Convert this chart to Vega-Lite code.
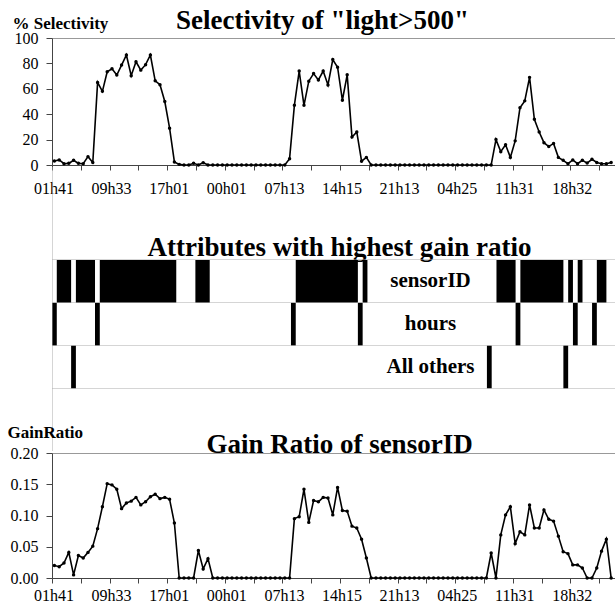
{
  "$schema": "https://vega.github.io/schema/vega-lite/v6.json",
  "autosize": {"type": "pad"},
  "padding": {"left": 7, "top": 7, "right": 0, "bottom": 0},
  "background": "white",
  "bounds": "flush",
  "spacing": 2,
  "config": {
    "font": "Liberation Serif",
    "view": {"stroke": null},
    "axis": {"labelFont": "Liberation Serif", "labelFontSize": 16, "labelColor": "black", "domainColor": "#444", "tickColor": "#444", "grid": false, "titleFont": "Liberation Serif", "titleColor": "black"},
    "title": {"font": "Liberation Serif", "fontSize": 27, "fontWeight": "bold", "color": "black"}
  },
  "datasets": {
    "series": [
      {"i": 0, "sel": 3.2, "gain": 0.020}, {"i": 1, "sel": 4, "gain": 0.018}, {"i": 2, "sel": 1, "gain": 0.024}, {"i": 3, "sel": 1.3, "gain": 0.041},
      {"i": 4, "sel": 3.7, "gain": 0.005}, {"i": 5, "sel": 1.3, "gain": 0.036}, {"i": 6, "sel": 1, "gain": 0.032}, {"i": 7, "sel": 6.6, "gain": 0.041},
      {"i": 8, "sel": 2, "gain": 0.051}, {"i": 9, "sel": 65, "gain": 0.079}, {"i": 10, "sel": 58, "gain": 0.114}, {"i": 11, "sel": 73.4, "gain": 0.151},
      {"i": 12, "sel": 75.8, "gain": 0.149}, {"i": 13, "sel": 70.8, "gain": 0.142}, {"i": 14, "sel": 78.7, "gain": 0.111}, {"i": 15, "sel": 86.6, "gain": 0.120},
      {"i": 16, "sel": 70.3, "gain": 0.123}, {"i": 17, "sel": 81.3, "gain": 0.129}, {"i": 18, "sel": 74.7, "gain": 0.117}, {"i": 19, "sel": 79, "gain": 0.122},
      {"i": 20, "sel": 86.6, "gain": 0.130}, {"i": 21, "sel": 66.3, "gain": 0.134}, {"i": 22, "sel": 63.2, "gain": 0.127}, {"i": 23, "sel": 50, "gain": 0.129},
      {"i": 24, "sel": 29, "gain": 0.126}, {"i": 25, "sel": 2.4, "gain": 0.088}, {"i": 26, "sel": 0.5, "gain": 0}, {"i": 27, "sel": 0, "gain": 0},
      {"i": 28, "sel": 0, "gain": 0}, {"i": 29, "sel": 1.3, "gain": 0}, {"i": 30, "sel": 0, "gain": 0.044}, {"i": 31, "sel": 1.8, "gain": 0.0145},
      {"i": 32, "sel": 0, "gain": 0.031}, {"i": 33, "sel": 0, "gain": 0}, {"i": 34, "sel": 0, "gain": 0}, {"i": 35, "sel": 0, "gain": 0},
      {"i": 36, "sel": 0, "gain": 0}, {"i": 37, "sel": 0, "gain": 0}, {"i": 38, "sel": 0, "gain": 0}, {"i": 39, "sel": 0, "gain": 0},
      {"i": 40, "sel": 0, "gain": 0}, {"i": 41, "sel": 0, "gain": 0}, {"i": 42, "sel": 0, "gain": 0}, {"i": 43, "sel": 0, "gain": 0},
      {"i": 44, "sel": 0, "gain": 0}, {"i": 45, "sel": 0, "gain": 0}, {"i": 46, "sel": 0, "gain": 0}, {"i": 47, "sel": 0, "gain": 0},
      {"i": 48, "sel": 0, "gain": 0}, {"i": 49, "sel": 5, "gain": 0}, {"i": 50, "sel": 47, "gain": 0.095}, {"i": 51, "sel": 74, "gain": 0.098},
      {"i": 52, "sel": 47, "gain": 0.142}, {"i": 53, "sel": 66, "gain": 0.089}, {"i": 54, "sel": 72, "gain": 0.124}, {"i": 55, "sel": 67, "gain": 0.122},
      {"i": 56, "sel": 74, "gain": 0.129}, {"i": 57, "sel": 63, "gain": 0.128}, {"i": 58, "sel": 83, "gain": 0.101}, {"i": 59, "sel": 77, "gain": 0.145},
      {"i": 60, "sel": 51, "gain": 0.108}, {"i": 61, "sel": 71, "gain": 0.107}, {"i": 62, "sel": 22, "gain": 0.083}, {"i": 63, "sel": 26, "gain": 0.080},
      {"i": 64, "sel": 3, "gain": 0.062}, {"i": 65, "sel": 6, "gain": 0.032}, {"i": 66, "sel": 0, "gain": 0}, {"i": 67, "sel": 0, "gain": 0},
      {"i": 68, "sel": 0, "gain": 0}, {"i": 69, "sel": 0, "gain": 0}, {"i": 70, "sel": 0, "gain": 0}, {"i": 71, "sel": 0, "gain": 0},
      {"i": 72, "sel": 0, "gain": 0}, {"i": 73, "sel": 0, "gain": 0}, {"i": 74, "sel": 0, "gain": 0}, {"i": 75, "sel": 0, "gain": 0},
      {"i": 76, "sel": 0, "gain": 0}, {"i": 77, "sel": 0, "gain": 0}, {"i": 78, "sel": 0, "gain": 0}, {"i": 79, "sel": 0, "gain": 0},
      {"i": 80, "sel": 0, "gain": 0}, {"i": 81, "sel": 0, "gain": 0}, {"i": 82, "sel": 0, "gain": 0}, {"i": 83, "sel": 0, "gain": 0},
      {"i": 84, "sel": 0, "gain": 0}, {"i": 85, "sel": 0, "gain": 0}, {"i": 86, "sel": 0, "gain": 0}, {"i": 87, "sel": 0, "gain": 0},
      {"i": 88, "sel": 0, "gain": 0}, {"i": 89, "sel": 0, "gain": 0}, {"i": 90, "sel": 0, "gain": 0}, {"i": 91, "sel": 0, "gain": 0.040},
      {"i": 92, "sel": 20, "gain": 0}, {"i": 93, "sel": 10.5, "gain": 0.069}, {"i": 94, "sel": 16, "gain": 0.101}, {"i": 95, "sel": 6, "gain": 0.114},
      {"i": 96, "sel": 19, "gain": 0.055}, {"i": 97, "sel": 45, "gain": 0.074}, {"i": 98, "sel": 50.5, "gain": 0.069}, {"i": 99, "sel": 69, "gain": 0.117},
      {"i": 100, "sel": 36, "gain": 0.080}, {"i": 101, "sel": 26, "gain": 0.080}, {"i": 102, "sel": 17.6, "gain": 0.109}, {"i": 103, "sel": 14.5, "gain": 0.094},
      {"i": 104, "sel": 17, "gain": 0.091}, {"i": 105, "sel": 6, "gain": 0.067}, {"i": 106, "sel": 3.7, "gain": 0.042}, {"i": 107, "sel": 1, "gain": 0.039},
      {"i": 108, "sel": 4, "gain": 0.021}, {"i": 109, "sel": 1, "gain": 0.021}, {"i": 110, "sel": 3.7, "gain": 0.016}, {"i": 111, "sel": 1.5, "gain": 0},
      {"i": 112, "sel": 4.5, "gain": 0}, {"i": 113, "sel": 2, "gain": 0.016}, {"i": 114, "sel": 1, "gain": 0.043}, {"i": 115, "sel": 1, "gain": 0.062},
      {"i": 116, "sel": 2, "gain": 0}
    ],
    "winners": [
      {"attr": "hours", "from": -0.5, "to": 0.5},
      {"attr": "hours", "from": 8.5, "to": 9.5},
      {"attr": "hours", "from": 49.5, "to": 50.5},
      {"attr": "hours", "from": 63.5, "to": 64.5},
      {"attr": "hours", "from": 96.5, "to": 97.5},
      {"attr": "hours", "from": 108.5, "to": 109.5},
      {"attr": "hours", "from": 112.5, "to": 113.5},
      {"attr": "sensorID", "from": 0.5, "to": 3.5},
      {"attr": "sensorID", "from": 4.5, "to": 8.5},
      {"attr": "sensorID", "from": 9.5, "to": 25.5},
      {"attr": "sensorID", "from": 29.5, "to": 32.5},
      {"attr": "sensorID", "from": 50.5, "to": 63.5},
      {"attr": "sensorID", "from": 64.5, "to": 65.5},
      {"attr": "sensorID", "from": 92.5, "to": 96.5},
      {"attr": "sensorID", "from": 97.5, "to": 106.5},
      {"attr": "sensorID", "from": 107.5, "to": 108.5},
      {"attr": "sensorID", "from": 109.5, "to": 110.5},
      {"attr": "sensorID", "from": 113.5, "to": 115.5},
      {"attr": "All others", "from": 3.5, "to": 4.5},
      {"attr": "All others", "from": 90.5, "to": 91.5},
      {"attr": "All others", "from": 106.5, "to": 107.5}
    ]
  },
  "vconcat": [
    {
      "width": 563,
      "height": 127,
      "data": {"name": "series"},
      "title": {"text": "Selectivity of \"light>500\"", "anchor": "middle", "frame": "group", "dx": -11, "baseline": "alphabetic", "offset": -42},
      "mark": {"type": "line", "color": "black", "strokeWidth": 1.6, "point": {"filled": true, "size": 12, "color": "black"}},
      "encoding": {
        "x": {
          "field": "i", "type": "quantitative",
          "scale": {"domain": [-0.5, 116.8], "nice": false, "zero": false},
          "axis": {
            "title": null,
            "values": [-0.5, 5.5, 11.5, 17.5, 23.5, 29.5, 35.5, 41.5, 47.5, 53.5, 59.5, 65.5, 71.5, 77.5, 83.5, 89.5, 95.5, 101.5, 107.5, 113.5],
            "labelExpr": "(datum.value + 0.5) % 12 === 0 ? ['01h41','09h33','17h01','00h01','07h13','14h15','21h13','04h25','11h31','18h32'][(datum.value + 0.5) / 12] : ''",
            "tickSize": 5, "labelPadding": 10, "labelOffset": 1.5, "labelFlush": false, "labelOverlap": false, "labelBound": false
          }
        },
        "y": {
          "field": "sel", "type": "quantitative",
          "scale": {"domain": [0, 100], "nice": false},
          "axis": {
            "values": [0, 20, 40, 60, 80, 100],
            "title": "% Selectivity", "titleAngle": 0, "titleAlign": "left", "titleBaseline": "alphabetic",
            "titleX": -40, "titleY": -10, "titleFontSize": 17, "titleFontWeight": "bold",
            "tickSize": 6, "labelPadding": 8,
            "grid": true, "gridColor": "#999",
            "gridOpacity": {"condition": {"test": "datum.value === 100", "value": 1}, "value": 0}
          }
        }
      }
    },
    {
      "width": 563,
      "height": 284,
      "data": {"name": "winners"},
      "title": {"text": "Attributes with highest gain ratio", "anchor": "middle", "frame": "group", "dx": 6, "baseline": "alphabetic", "offset": -116},
      "mark": {"type": "rect", "color": "black"},
      "encoding": {
        "x": {"field": "from", "type": "quantitative", "scale": {"domain": [-0.5, 117.3], "nice": false, "zero": false}, "axis": null},
        "x2": {"field": "to"},
        "y": {
          "field": "attr", "type": "nominal",
          "scale": {"domain": ["^", "sensorID", "hours", "All others", "_"], "paddingInner": 0, "paddingOuter": 0.818, "align": 0.717},
          "axis": {
            "title": null, "bandPosition": 0, "ticks": false, "tickSize": 0,
            "domain": true, "domainColor": "#aaa", "domainDash": [1, 1],
            "grid": true, "gridColor": "#aaa", "gridDash": [1, 1],
            "gridOpacity": {"condition": {"test": "datum.value === '^'", "value": 0}, "value": 1},
            "labelAlign": "center", "labelBaseline": "middle", "labelPadding": -378, "labelOffset": 0,
            "labelFontSize": 21, "labelFontWeight": "bold",
            "labelExpr": "(datum.value === '_' || datum.value === '^') ? '' : datum.value"
          }
        }
      }
    },
    {
      "width": 563,
      "height": 125,
      "data": {"name": "series"},
      "title": {"text": "Gain Ratio of sensorID", "anchor": "middle", "frame": "group", "dx": 6, "baseline": "alphabetic", "offset": -56},
      "mark": {"type": "line", "color": "black", "strokeWidth": 1.6, "point": {"filled": true, "size": 12, "color": "black"}},
      "encoding": {
        "x": {
          "field": "i", "type": "quantitative",
          "scale": {"domain": [-0.5, 116.8], "nice": false, "zero": false},
          "axis": {
            "title": null,
            "values": [-0.5, 5.5, 11.5, 17.5, 23.5, 29.5, 35.5, 41.5, 47.5, 53.5, 59.5, 65.5, 71.5, 77.5, 83.5, 89.5, 95.5, 101.5, 107.5, 113.5],
            "labelExpr": "(datum.value + 0.5) % 12 === 0 ? ['01h41','09h33','17h01','00h01','07h13','14h15','21h13','04h25','11h31','18h32'][(datum.value + 0.5) / 12] : ''",
            "tickSize": 5, "labelPadding": 4, "labelOffset": 1.5, "labelFlush": false, "labelOverlap": false, "labelBound": false
          }
        },
        "y": {
          "field": "gain", "type": "quantitative",
          "scale": {"domain": [0, 0.2], "nice": false},
          "axis": {
            "values": [0, 0.05, 0.1, 0.15, 0.2], "format": ".2f",
            "title": "GainRatio", "titleAngle": 0, "titleAlign": "left", "titleBaseline": "alphabetic",
            "titleX": -45, "titleY": -15.5, "titleFontSize": 17, "titleFontWeight": "bold",
            "tickSize": 6, "labelPadding": 8,
            "grid": true, "gridColor": "#999",
            "gridOpacity": {"condition": {"test": "datum.value === 0.2", "value": 1}, "value": 0}
          }
        }
      }
    }
  ]
}
